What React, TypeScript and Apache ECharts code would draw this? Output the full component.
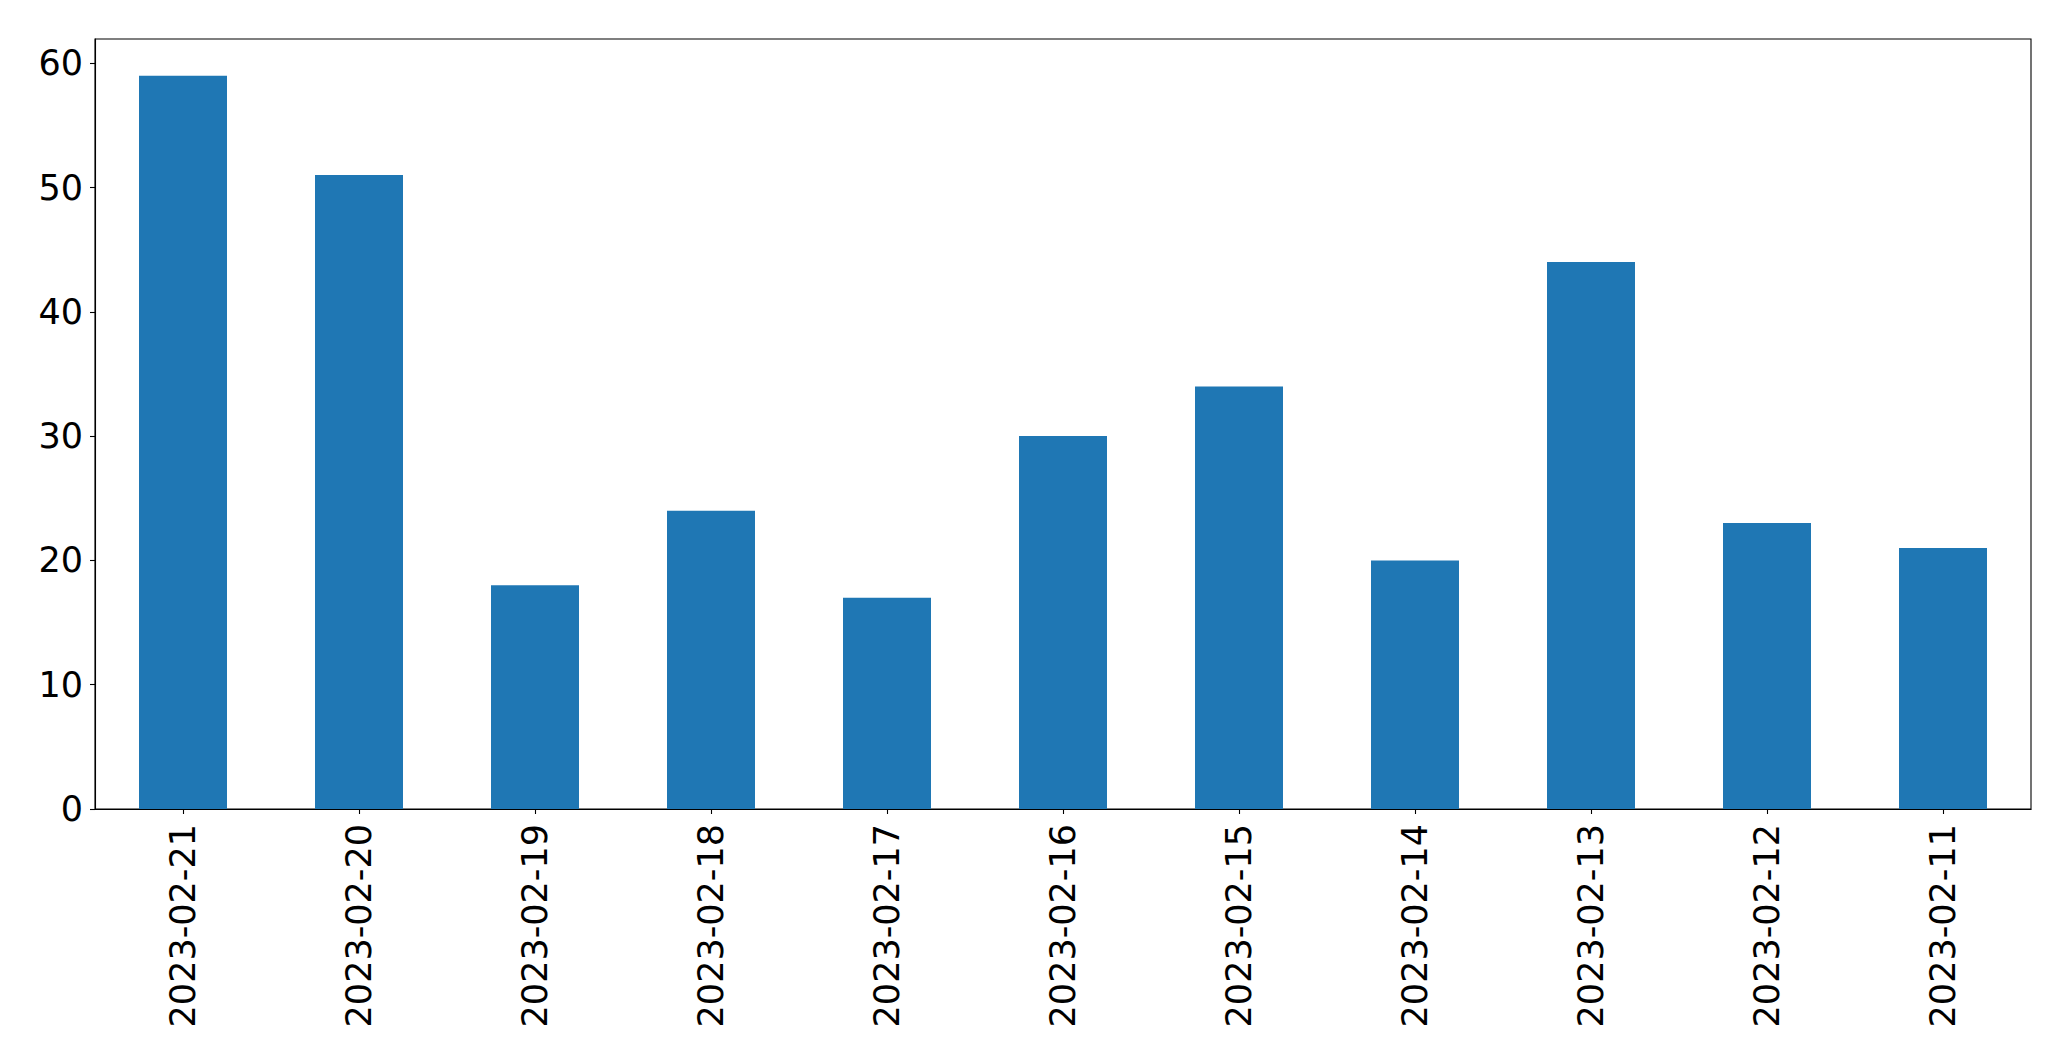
import React, { useEffect, useRef } from "react";
import * as echarts from "echarts";

const categories = [
  "2023-02-21", "2023-02-20", "2023-02-19", "2023-02-18", "2023-02-17", "2023-02-16",
  "2023-02-15", "2023-02-14", "2023-02-13", "2023-02-12", "2023-02-11",
];
const values = [59, 51, 18, 24, 17, 30, 34, 20, 44, 23, 21];
const yTicks = [0, 10, 20, 30, 40, 50, 60];

export default function App() {
  const ref = useRef<HTMLDivElement>(null);
  useEffect(() => {
    if (!ref.current) return;
    const chart = echarts.init(ref.current, null, { renderer: "svg" });
    const font = "DejaVu Sans";
    chart.setOption({
      animation: false,
      backgroundColor: "#ffffff",
      grid: {
        left: 95,
        right: 40,
        top: 39,
        bottom: 252,
        show: true,
        borderColor: "#000000",
        borderWidth: 1.1,
        backgroundColor: "transparent",
      },
      xAxis: {
        type: "category",
        data: categories,
        axisLine: { show: true, lineStyle: { color: "#000000", width: 1.1 } },
        axisTick: { show: true, alignWithLabel: true, length: 5, lineStyle: { color: "#000000", width: 1.1 } },
        axisLabel: {
          rotate: 90,
          fontSize: 35,
          fontFamily: font,
          color: "#000000",
          margin: 15,
          interval: 0,
        },
        splitLine: { show: false },
      },
      yAxis: {
        type: "value",
        min: 0,
        max: 61.95,
        splitLine: { show: false },
        axisLine: { show: true, lineStyle: { color: "#000000", width: 1.1 } },
        axisTick: { show: true, length: 5, customValues: yTicks, lineStyle: { color: "#000000", width: 1.1 } },
        axisLabel: {
          fontSize: 35,
          fontFamily: font,
          color: "#000000",
          margin: 12,
          customValues: yTicks,
        },
      },
      series: [
        {
          type: "bar",
          data: values,
          barWidth: "50%",
          itemStyle: { color: "#1f77b4" },
        },
      ],
    });
    return () => chart.dispose();
  }, []);
  return (
    <div
      ref={ref}
      style={{ position: "fixed", left: 0, top: 0, width: 2071, height: 1061, background: "#fff" }}
    />
  );
}
